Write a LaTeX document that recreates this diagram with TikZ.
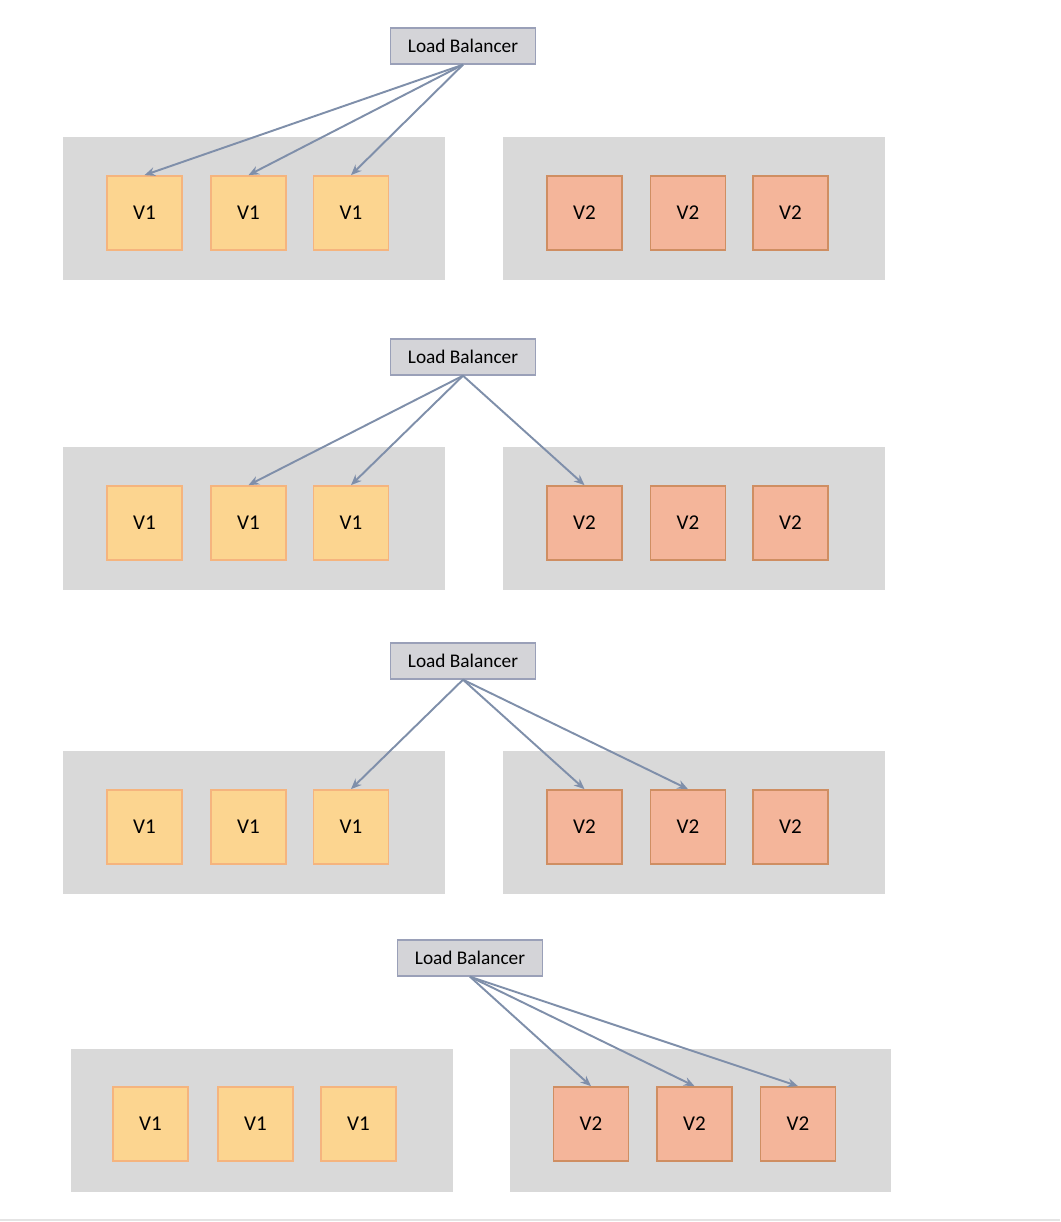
\documentclass[tikz,border=0pt]{standalone}
\usepackage{fontspec}
\setmainfont{Carlito}
\usepackage{xcolor}
\usetikzlibrary{positioning,arrows.meta}

\definecolor{poolgray}{HTML}{D9D9D9}
\definecolor{oldfill}{HTML}{FCD590}
\definecolor{olddraw}{HTML}{F5B47E}
\definecolor{newfill}{HTML}{F4B59A}
\definecolor{newdraw}{HTML}{CF8E62}
\definecolor{lbfill}{HTML}{D4D4D8}
\definecolor{lbdraw}{HTML}{9AA0B8}
\definecolor{routecol}{HTML}{7F8FAA}

\begin{document}
\begin{tikzpicture}[x=0.02cm,y=-0.02cm,
  font=\fontsize{11}{13}\selectfont,
  pool/.style={fill=poolgray, minimum width=7.64cm, minimum height=2.86cm, inner sep=0pt},
  old/.style={fill=oldfill, draw=olddraw, line width=1pt, minimum width=1.5cm, minimum height=1.48cm, inner sep=0pt, font=\fontsize{12}{14}\selectfont},
  new/.style={fill=newfill, draw=newdraw, line width=1pt, minimum width=1.5cm, minimum height=1.48cm, inner sep=0pt, font=\fontsize{12}{14}\selectfont},
  lb/.style={fill=lbfill, draw=lbdraw, line width=0.8pt, minimum width=2.9cm, minimum height=0.72cm, inner sep=0pt},
  route/.style={draw=routecol, line width=1.1pt, -{Stealth[length=6pt,width=5pt]}}]

\useasboundingbox (0,0) rectangle (1060,1222);
\draw[poolgray!70, line width=1pt] (0,1220) -- (1060,1220);

% stage 1
\node[lb] (lb1) at (463,46) {Load Balancer};
\node[pool] (pa1) at (254,208.5) {};
\node[pool] (pb1) at (694,208.5) {};
\node[old] (a11) at (144.5,213) {V1};
\node[old] (a12) at (248.5,213) {V1};
\node[old] (a13) at (351,213) {V1};
\node[new] (b11) at (584.5,213) {V2};
\node[new] (b12) at (688,213) {V2};
\node[new] (b13) at (790.5,213) {V2};

\draw[route] (lb1.south) -- (a11.north);
\draw[route] (lb1.south) -- (a12.north);
\draw[route] (lb1.south) -- (a13.north);

% stage 2
\node[lb] (lb2) at (463,357) {Load Balancer};
\node[pool] (pa2) at (254,518.5) {};
\node[pool] (pb2) at (694,518.5) {};
\node[old] (a21) at (144.5,523) {V1};
\node[old] (a22) at (248.5,523) {V1};
\node[old] (a23) at (351,523) {V1};
\node[new] (b21) at (584.5,523) {V2};
\node[new] (b22) at (688,523) {V2};
\node[new] (b23) at (790.5,523) {V2};

\draw[route] (lb2.south) -- (a22.north);
\draw[route] (lb2.south) -- (a23.north);
\draw[route] (lb2.south) -- (b21.north);

% stage 3
\node[lb] (lb3) at (463,661) {Load Balancer};
\node[pool] (pa3) at (254,822.5) {};
\node[pool] (pb3) at (694,822.5) {};
\node[old] (a31) at (144.5,827) {V1};
\node[old] (a32) at (248.5,827) {V1};
\node[old] (a33) at (351,827) {V1};
\node[new] (b31) at (584.5,827) {V2};
\node[new] (b32) at (688,827) {V2};
\node[new] (b33) at (790.5,827) {V2};

\draw[route] (lb3.south) -- (a33.north);
\draw[route] (lb3.south) -- (b31.north);
\draw[route] (lb3.south) -- (b32.north);

% stage 4
\node[lb] (lb4) at (470,958) {Load Balancer};
\node[pool] (pa4) at (262,1120.5) {};
\node[pool] (pb4) at (700.5,1120.5) {};
\node[old] (a41) at (150.5,1124) {V1};
\node[old] (a42) at (255.5,1124) {V1};
\node[old] (a43) at (358.5,1124) {V1};
\node[new] (b41) at (591,1124) {V2};
\node[new] (b42) at (694.5,1124) {V2};
\node[new] (b43) at (798,1124) {V2};

\draw[route] (lb4.south) -- (b41.north);
\draw[route] (lb4.south) -- (b42.north);
\draw[route] (lb4.south) -- (b43.north);

\end{tikzpicture}
\end{document}
